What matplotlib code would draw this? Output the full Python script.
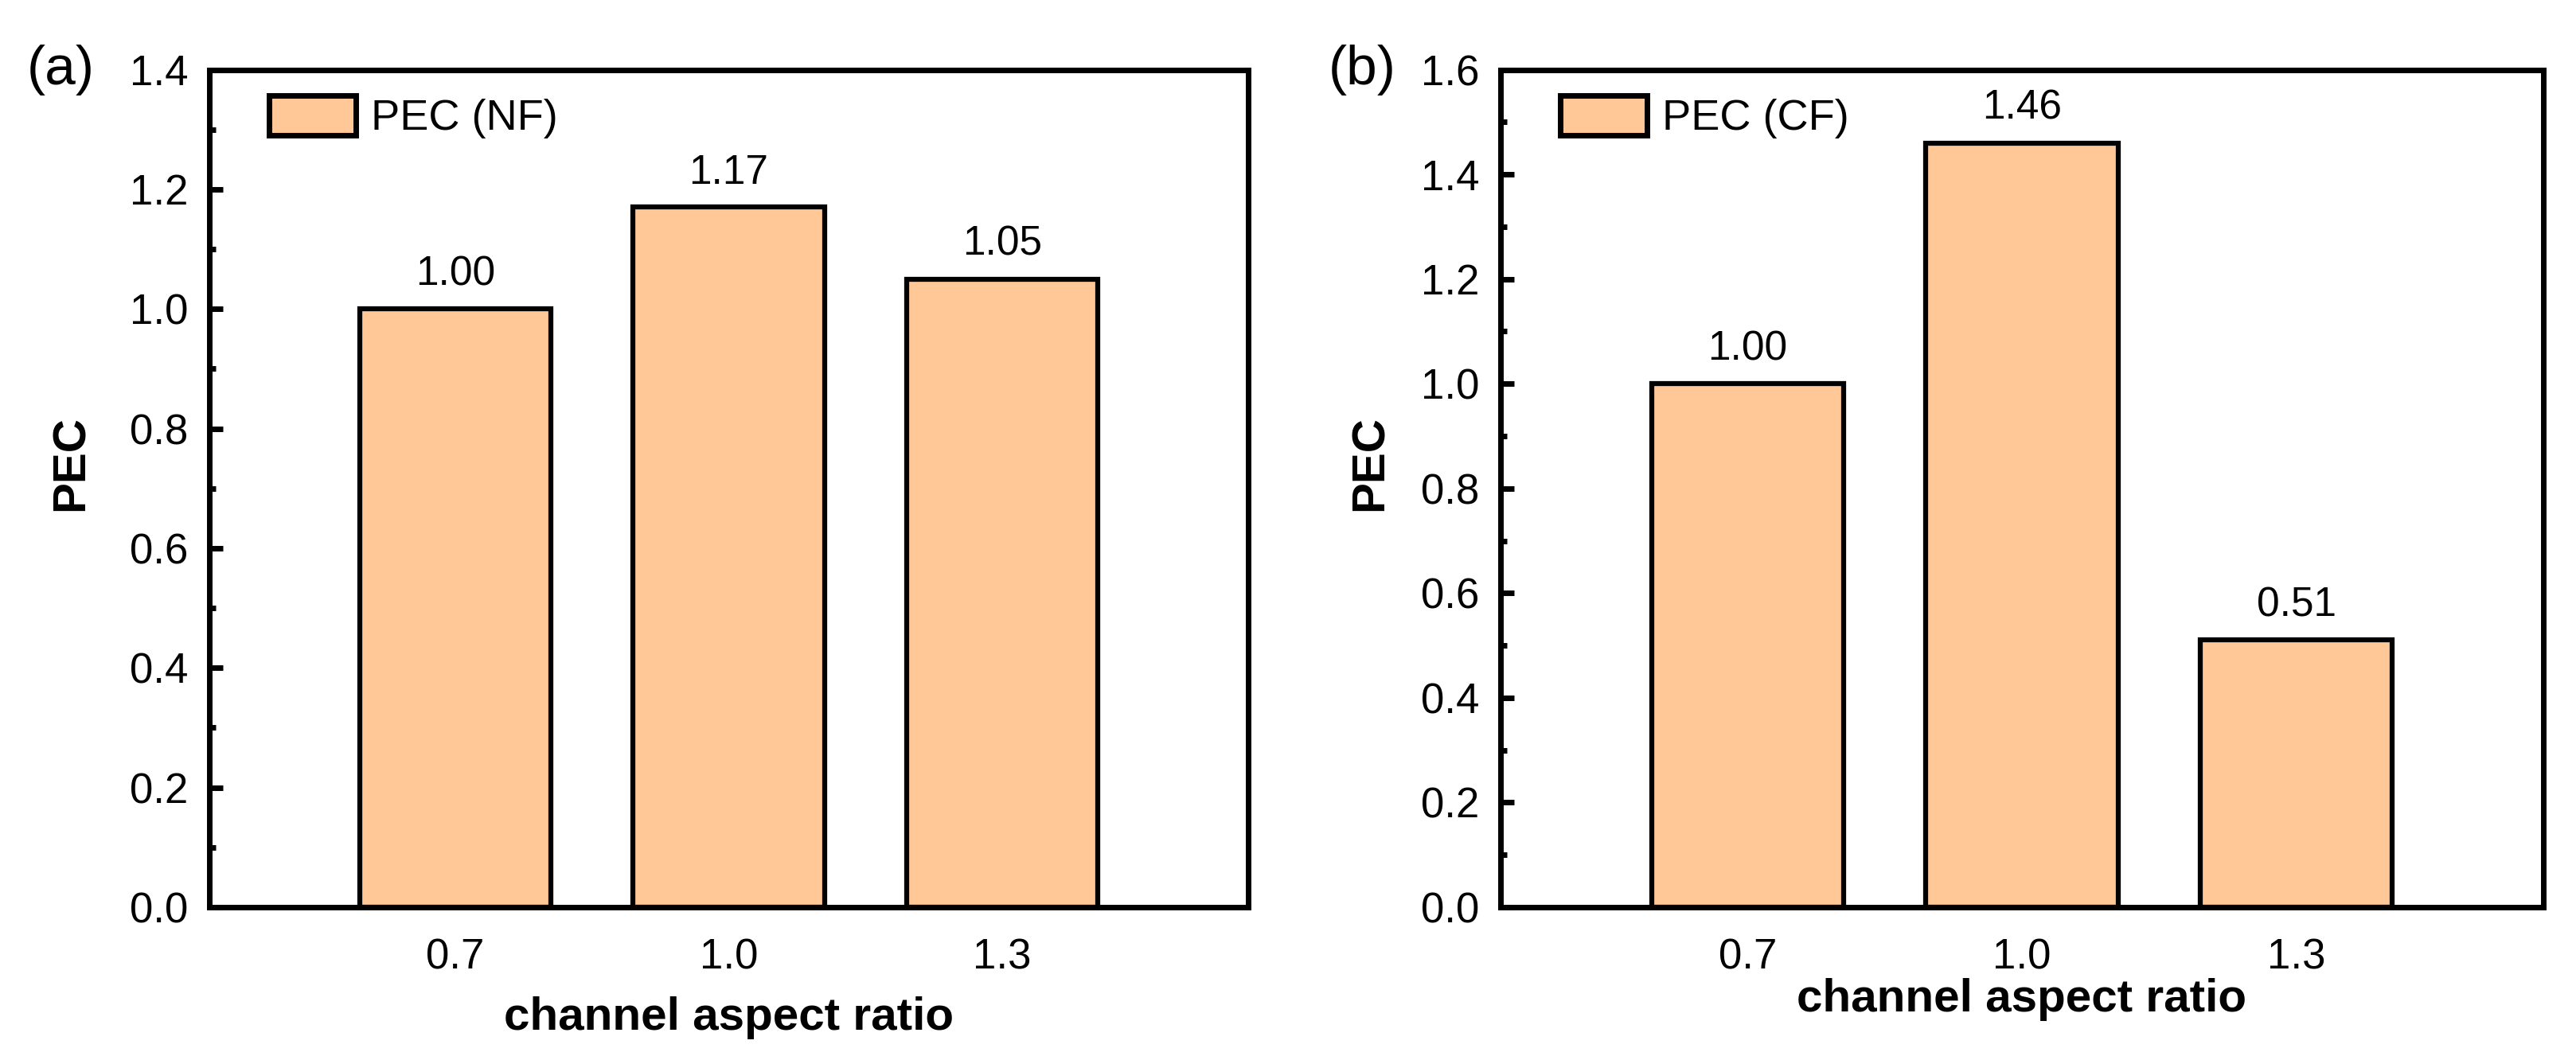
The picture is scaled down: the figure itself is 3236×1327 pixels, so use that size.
import matplotlib
matplotlib.use('Agg')
import matplotlib.pyplot as plt
from matplotlib.ticker import MultipleLocator

plt.rcParams['font.family'] = ['Liberation Sans', 'DejaVu Sans']

# data
ratios = ['0.7', '1.0', '1.3']
pec_nf = [1.00, 1.17, 1.05]
pec_cf = [1.00, 1.46, 0.51]
labels_nf = ['1.00', '1.17', '1.05']
labels_cf = ['1.00', '1.46', '0.51']

bar_color = '#FFC896'
x = [1, 2, 3]

fig = plt.figure(figsize=(32.36, 13.27), dpi=100)
ax1 = fig.add_axes([0.0813, 0.141, 0.4032, 0.793])
ax2 = fig.add_axes([0.5825, 0.141, 0.4048, 0.793])


def draw_panel(ax, vals, labs, leg, ymax, tag, xpad, tagx, ylx):
    ax.bar(x, vals, width=0.7, color=bar_color, edgecolor='black',
           linewidth=4.5, label=leg)
    for xi, v, s in zip(x, vals, labs):
        ax.text(xi, v + ymax * 0.018, s, ha='center', va='bottom', fontsize=37)
    ax.set_xlim(0.1, 3.9)
    ax.set_ylim(0, ymax)
    ax.set_xticks(x)
    ax.set_xticklabels(ratios)
    ax.yaxis.set_major_locator(MultipleLocator(0.2))
    ax.yaxis.set_minor_locator(MultipleLocator(0.1))
    ax.yaxis.set_major_formatter(plt.FuncFormatter(lambda v, p: '%.1f' % v))
    ax.tick_params(axis='y', which='major', direction='in', length=12,
                   width=5, labelsize=38, pad=19)
    ax.tick_params(axis='y', which='minor', direction='in', length=6, width=5)
    ax.tick_params(axis='x', length=0, labelsize=38, pad=28)
    for sp in ax.spines.values():
        sp.set_linewidth(5)
    ax.set_xlabel('channel aspect ratio', fontsize=42, fontweight='bold',
                  labelpad=xpad)
    ax.set_ylabel('PEC', fontsize=42, fontweight='bold')
    ax.yaxis.set_label_coords(ylx, 0.53)
    leg_obj = ax.legend(loc='upper left', bbox_to_anchor=(0.041, 0.99),
                        frameon=False, fontsize=39, borderaxespad=0,
                        handlelength=2.0, handleheight=1.05, handletextpad=0.35)
    for p in leg_obj.get_patches():
        p.set_linewidth(5)
    ax.text(tagx, 1.0, tag, transform=ax.transAxes, fontsize=50,
            ha='left', va='center')


draw_panel(ax1, pec_nf, labels_nf, 'PEC (NF)', 1.4, '(a)', 17, -0.176, -0.112)
draw_panel(ax2, pec_cf, labels_cf, 'PEC (CF)', 1.6, '(b)', 0, -0.165, -0.104)

fig.savefig('out.png', dpi=100)
